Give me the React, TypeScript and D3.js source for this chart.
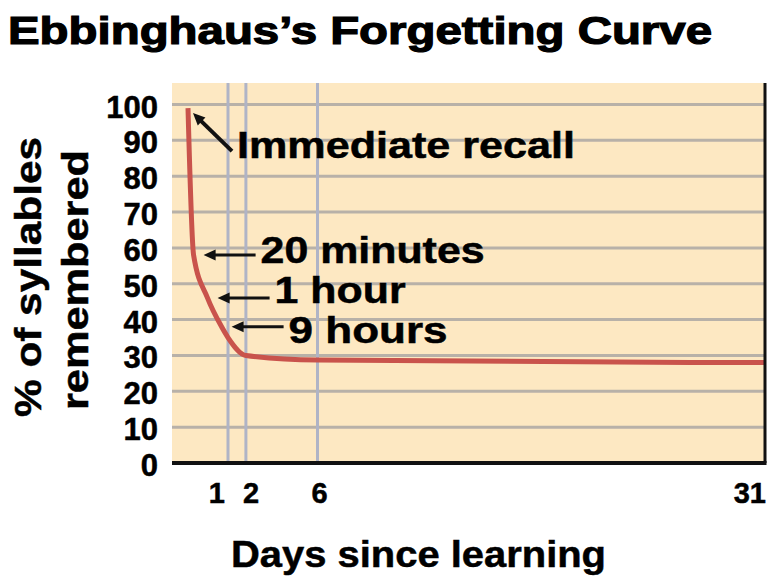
import * as d3 from "d3";
import { useEffect, useRef } from "react";

// y axis: % of syllables remembered
const percentTicks = [0, 10, 20, 30, 40, 50, 60, 70, 80, 90, 100];
// x axis: days since learning
const dayTicks = [1, 2, 6, 31];

// curve. The first day is drawn stretched,
// so the early points sit at their drawn share of that first-day span.
const curveDays = [0, 0.14, 0.49, 0.84, 1, 2, 6, 31];
const curvePercent = [99, 58, 46, 38, 35, 30, 28.7, 28];

// callouts pointing at the curve
const calloutLabels = ["20 minutes", "1 hour", "9 hours"];
const calloutDays = [0.14, 0.49, 0.84];
const calloutPercent = [58, 46, 38];
const startLabel = "Immediate recall";

const FONT = "'Liberation Sans', Arial, Helvetica, sans-serif";

const App = () => {
    const ref = useRef<SVGSVGElement | null>(null);

    useEffect(() => {
        removeChart();
        drawChart();
    }, []);

    const removeChart = () => {
        d3.select(ref.current).selectAll("*").remove();
    };

    const drawChart = () => {
        const svg = d3.select(ref.current);

        const left = 172, right = 765, top = 83, bottom = 463;

        const y = d3.scaleLinear().domain([0, 100]).range([bottom, 104.5]);
        // polylinear: stretched first day, then linear days
        const x = d3.scaleLinear().domain([0, 1, 31]).range([188, 228, right]);

        // plot background
        svg.append("rect")
            .attr("x", left).attr("y", top)
            .attr("width", right - left).attr("height", bottom - top)
            .attr("fill", "#fde8c2");

        // horizontal grid
        svg.selectAll("hgrid")
            .data(percentTicks.filter(d => d > 0))
            .join("line")
            .attr("x1", left).attr("x2", right)
            .attr("y1", d => y(d)).attr("y2", d => y(d))
            .attr("stroke", "#b8b1a8")
            .attr("stroke-width", 3);

        // vertical grid
        svg.selectAll("vgrid")
            .data(dayTicks.filter(d => d < 31))
            .join("line")
            .attr("x1", d => x(d)).attr("x2", d => x(d))
            .attr("y1", top).attr("y2", bottom)
            .attr("stroke", "#b0b4c6")
            .attr("stroke-width", 3);

        // the forgetting curve
        const line = d3.line<number>()
            .x((_, i) => x(curveDays[i]))
            .y(d => y(d))
            .curve(d3.curveMonotoneX);

        svg.append("path")
            .attr("d", line(curvePercent))
            .attr("fill", "none")
            .attr("stroke", "#c9534c")
            .attr("stroke-width", 5);

        // right border + x axis line
        svg.append("line")
            .attr("x1", right).attr("x2", right)
            .attr("y1", top).attr("y2", bottom)
            .attr("stroke", "#111").attr("stroke-width", 3);
        svg.append("line")
            .attr("x1", left).attr("x2", right + 1.5)
            .attr("y1", bottom).attr("y2", bottom)
            .attr("stroke", "#111").attr("stroke-width", 4);

        // arrow from (x1,y1) to tip (x2,y2)
        const arrow = (x1: number, y1: number, x2: number, y2: number, w: number) => {
            const ang = Math.atan2(y2 - y1, x2 - x1);
            const head = 12, half = 5.5;
            const bx = x2 - head * Math.cos(ang), by = y2 - head * Math.sin(ang);
            svg.append("line")
                .attr("x1", x1).attr("y1", y1)
                .attr("x2", bx + 2 * Math.cos(ang)).attr("y2", by + 2 * Math.sin(ang))
                .attr("stroke", "#111").attr("stroke-width", w);
            const px = -Math.sin(ang), py = Math.cos(ang);
            svg.append("path")
                .attr("d", `M${x2},${y2}L${bx + px * half},${by + py * half}L${bx - px * half},${by - py * half}Z`)
                .attr("fill", "#111");
        };

        const heavy = (sel: any) => sel.attr("stroke", "#000").attr("stroke-width", 0.5);

        // immediate recall callout
        const sx = x(curveDays[0]), sy = y(curvePercent[0]);
        arrow(sx + 44, sy + 43, sx + 5, sy + 5, 4);
        svg.append("text")
            .attr("x", sx + 49).attr("y", sy + 50)
            .attr("textLength", 338).attr("lengthAdjust", "spacingAndGlyphs")
            .style("font", `bold 37px ${FONT}`)
            .call(heavy)
            .text(startLabel);

        // timed callouts
        const labelWidths = [224, 131, 159];
        const labelDy = [8, 5, 16];
        calloutLabels.forEach((label, i) => {
            const cx = x(calloutDays[i]) + 10;
            const cy = y(calloutPercent[i]);
            arrow(cx + 52, cy, cx, cy, 3);
            svg.append("text")
                .attr("x", cx + 57).attr("y", cy + labelDy[i])
                .attr("textLength", labelWidths[i]).attr("lengthAdjust", "spacingAndGlyphs")
                .style("font", `bold 37px ${FONT}`)
                .call(heavy)
                .text(label);
        });

        // y tick labels
        svg.selectAll("ylabels")
            .data(percentTicks)
            .join("text")
            .attr("x", 158)
            .attr("y", d => y(d) + 13)
            .attr("text-anchor", "end")
            .style("font", `bold 31px ${FONT}`)
            .call(heavy)
            .text(d => d);

        // x tick labels, 1 and 2 pushed apart so they don't collide
        const tickAnchor: Record<number, [string, number]> = {
            1: ["end", -3], 2: ["start", -3], 6: ["middle", 2], 31: ["end", 1],
        };
        svg.selectAll("xlabels")
            .data(dayTicks)
            .join("text")
            .attr("x", d => x(d) + tickAnchor[d][1])
            .attr("y", 503)
            .attr("text-anchor", d => tickAnchor[d][0])
            .style("font", `bold 29px ${FONT}`)
            .call(heavy)
            .text(d => d);

        // axis titles
        svg.append("text")
            .attr("x", 231).attr("y", 567)
            .attr("textLength", 375).attr("lengthAdjust", "spacingAndGlyphs")
            .style("font", `bold 37px ${FONT}`)
            .call(heavy)
            .text("Days since learning");

        svg.append("text")
            .attr("transform", "translate(41,277) rotate(-90)")
            .attr("text-anchor", "middle")
            .attr("textLength", 280).attr("lengthAdjust", "spacingAndGlyphs")
            .style("font", `bold 36px ${FONT}`)
            .call(heavy)
            .text("% of syllables");
        svg.append("text")
            .attr("transform", "translate(88,280) rotate(-90)")
            .attr("text-anchor", "middle")
            .attr("textLength", 260).attr("lengthAdjust", "spacingAndGlyphs")
            .style("font", `bold 36px ${FONT}`)
            .call(heavy)
            .text("remembered");

        // title
        svg.append("text")
            .attr("x", 8).attr("y", 44)
            .attr("textLength", 704).attr("lengthAdjust", "spacingAndGlyphs")
            .attr("stroke", "#000").attr("stroke-width", 1.2)
            .style("font", `bold 39px ${FONT}`)
            .text("Ebbinghaus\u2019s Forgetting Curve");
    };

    return (
        <svg
            ref={ref}
            width={769}
            height={577}
            style={{ position: "absolute", left: 0, top: 0, background: "#fff" }}
        />
    );
};

export default App;
